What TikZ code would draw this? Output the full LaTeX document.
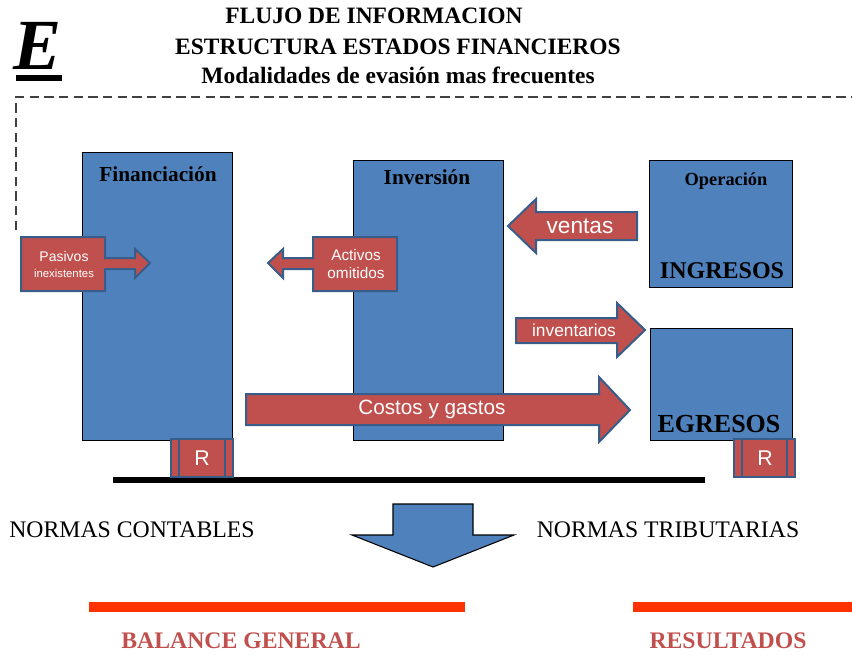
\documentclass[tikz,border=0pt]{standalone}
\usepackage{fontspec}
\setmainfont{Liberation Serif}
\newfontfamily\arialf{Liberation Sans}
\definecolor{boxblue}{HTML}{4F81BD}
\definecolor{arrred}{HTML}{C0504D}
\definecolor{arrborder}{HTML}{385D8A}
\definecolor{lineorange}{HTML}{FF3300}
\newcommand{\fs}[1]{\fontsize{#1}{#1}\selectfont}
\tikzset{
  bluebox/.style={draw=black, line width=1pt, fill=boxblue},
  redarrow/.style={draw=arrborder, line width=1.5pt, fill=arrred, line join=miter},
  arrlabel/.style={text=white, font=\arialf\fs{#1}, inner sep=0pt},
  boxtitle/.style={font=\bfseries\fs{#1}, inner sep=0pt},
  rbox/.style={draw=arrborder, line width=1.5pt, fill=arrred},
}
\begin{document}
\begin{tikzpicture}[x=0.75pt,y=-0.75pt]
\useasboundingbox (0,0) rectangle (852,654);
% titles
\node[boxtitle=17.6] (t1) at (374,16) {FLUJO DE INFORMACION};
\node[boxtitle=17.6] (t2) at (398,47) {ESTRUCTURA ESTADOS FINANCIEROS};
\node[boxtitle=17.6] (t3) at (398,75) {Modalidades de evasión mas frecuentes};
\node[font=\bfseries\itshape\fs{54}, inner sep=0pt] (E) at (38,46) {E};
\fill (16,75) rectangle (62,81);
% dashed frame
\draw[dash pattern=on 7pt off 4pt, line width=0.8pt, black!75] (16,230) -- (16,97) -- (852,97);
% boxes
\node[bluebox, minimum width=150*0.75pt, minimum height=288*0.75pt, anchor=north west] (fin) at (82,152) {};
\node[bluebox, minimum width=150*0.75pt, minimum height=280*0.75pt, anchor=north west] (inv) at (353,160) {};
\node[bluebox, minimum width=143*0.75pt, minimum height=127*0.75pt, anchor=north west] (ope) at (649,160) {};
\node[bluebox, minimum width=142*0.75pt, minimum height=112*0.75pt, anchor=north west] (egr) at (650,328) {};
\node[boxtitle=16] (finl) at (158,174) {Financiación};
\node[boxtitle=16] (invl) at (427,177) {Inversión};
\node[boxtitle=13.8] (opel) at (726,181) {Operación};
\node[boxtitle=18] (ingl) at (722,271) {INGRESOS};
\node[boxtitle=19.5] (egrl) at (719,424) {EGRESOS};
% black base line
\fill (113,477) rectangle (705,483);
% R boxes
\draw[rbox] (171,439) rectangle (233,477);
\draw[arrborder, line width=1.5pt] (179,439) -- (179,477) (225,439) -- (225,477);
\node[arrlabel=16] (r1) at (202,458) {R};
\draw[rbox] (734,439) rectangle (795,477);
\draw[arrborder, line width=1.5pt] (742,439) -- (742,477) (787,439) -- (787,477);
\node[arrlabel=16] (r2) at (765,458) {R};
% Pasivos callout
\draw[redarrow] (21,237) -- (105,237) -- (105,258) -- (135,258) -- (135,249) -- (150,263) -- (135,278) -- (135,269) -- (105,269) -- (105,291) -- (21,291) -- cycle;
\node[arrlabel=10.5] (pas1) at (64,256) {Pasivos};
\node[arrlabel=8.5] (pas2) at (64,273) {inexistentes};
% Activos callout
\draw[redarrow] (397,237) -- (313,237) -- (313,258) -- (283,258) -- (283,249) -- (268,263) -- (283,278) -- (283,269) -- (313,269) -- (313,291) -- (397,291) -- cycle;
\node[arrlabel=11.5] (act1) at (356,255) {Activos};
\node[arrlabel=11.5] (act2) at (356,273) {omitidos};
% ventas
\draw[redarrow] (637,212) -- (536,212) -- (536,199) -- (508,226) -- (536,253) -- (536,240) -- (637,240) -- cycle;
\node[arrlabel=17] (ven) at (580,226) {ventas};
% inventarios
\draw[redarrow] (516,318) -- (617,318) -- (617,303) -- (645,330) -- (617,357) -- (617,343) -- (516,343) -- cycle;
\node[arrlabel=13] (invt) at (574,330) {inventarios};
% Costos y gastos
\draw[redarrow] (246,394) -- (599,394) -- (599,377) -- (630,410) -- (599,442) -- (599,425) -- (246,425) -- cycle;
\node[arrlabel=15.5] (cyg) at (432,409) {Costos y gastos};
% down arrow
\draw[fill=boxblue, draw=black, line width=0.8pt] (393,504) -- (473,504) -- (473,535) -- (514,535) -- (433,567) -- (352,535) -- (393,535) -- cycle;
% normas
\node[font=\fs{17.8}, inner sep=0pt] (nc) at (132,530) {NORMAS CONTABLES};
\node[font=\fs{17.8}, inner sep=0pt] (nt) at (668,530) {NORMAS TRIBUTARIAS};
% orange lines
\fill[lineorange] (89,602) rectangle (465,612);
\fill[lineorange] (633,602) rectangle (852,612);
\node[boxtitle=17.8, text=arrred] (bg) at (241,641) {BALANCE GENERAL};
\node[boxtitle=17.8, text=arrred] (res) at (728,641) {RESULTADOS};
\end{tikzpicture}
\end{document}
